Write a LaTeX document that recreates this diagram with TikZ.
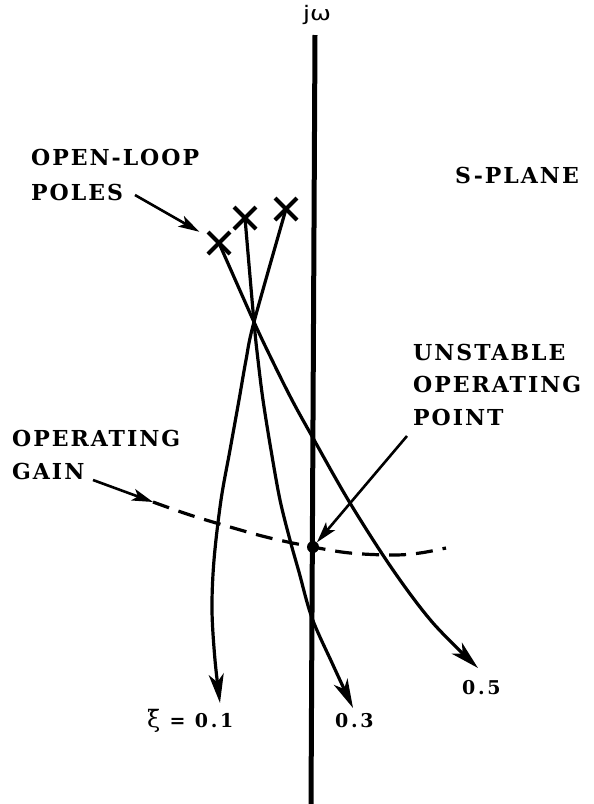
\documentclass[tikz,border=0pt]{standalone}
\usepackage{fontspec}
\setmainfont{DejaVu Serif}
\newfontfamily\lbl[LetterSpace=9]{DejaVu Serif Bold}
\newfontfamily\numf[LetterSpace=14]{DejaVu Serif Bold}
\newfontfamily\greekf{DejaVu Serif}
\newfontfamily\jwf{DejaVu Sans}
\usetikzlibrary{arrows.meta,shapes.misc}
\begin{document}
\begin{tikzpicture}[x=1pt,y=-1pt,
  branch/.style={line width=3.2pt, -{Stealth[length=29pt,width=15pt,inset=8pt]}},
  pole/.style={cross out, draw, line width=4pt, minimum size=18pt, inner sep=0pt},
  lab/.style={anchor=west, inner sep=0pt, font={\lbl\fontsize{22}{26}\selectfont}},
  num/.style={anchor=west, inner sep=0pt, font={\numf\fontsize{19}{23}\selectfont}},
  pointer/.style={line width=2.6pt, -{Stealth[length=21pt,width=12pt,inset=5pt]}},
  gainline/.style={line width=3.2pt, dash pattern=on 17pt off 10pt},
  opdot/.style={circle, fill, inner sep=0pt, minimum size=12pt}
]
\useasboundingbox (0,0) rectangle (594,804);
\fill[white] (0,0) rectangle (594,804);

% imaginary axis
\coordinate (atop) at (315,35);
\coordinate (abot) at (311,804);
\draw[line width=5pt] (atop) -- (abot);
\node[inner sep=0pt] (jw) at (317,15) {\jwf\fontsize{20}{24}\selectfont\scalebox{1.25}[1]{jω}};

% poles
\node[pole] (p1) at (219,243) {};
\node[pole] (p2) at (245,218) {};
\node[pole] (p3) at (286,209) {};
\coordinate (cx) at (254,322);

% branches
\draw[branch] plot[smooth, tension=0.55] coordinates {(p3) (cx) (246,360) (239,400) (230,450) (221,500) (214,560) (212,610) (215,660) (220,703)};
\draw[branch] plot[smooth, tension=0.55] coordinates {(p2) (cx) (258,360) (263,400) (271,450) (280,500) (290,540) (299,572) (312,618) (333,665) (353,708)};
\draw[branch] plot[smooth, tension=0.55] coordinates {(p1) (cx) (272,360) (292,400) (313,438) (350,503) (393,570) (433,623) (478,668)};

% operating gain locus
\coordinate (g) at (153,502);
\node[opdot] (op) at (313,547) {};
\draw[gainline] plot[smooth, tension=0.6] coordinates {(g) (190,515) (230,527) (270,538) (op) (350,553) (393,555) (420,553) (446,548)};

% labels
\node[lab] (ol1) at (31,157) {OPEN-LOOP};
\node[lab] (ol2) at (31,192) {POLES};
\node[lab] (sp) at (455,175) {S-PLANE};
\node[lab] (us1) at (413,352) {UNSTABLE};
\node[lab] (us2) at (413,384) {OPERATING};
\node[lab] (us3) at (413,417) {POINT};
\node[lab] (og1) at (12,438) {OPERATING};
\node[lab] (og2) at (12,471) {GAIN};

\node[num, anchor=base west] (z1) at (147,727) {{\greekf\fontsize{24}{24}\selectfont ξ̄} = 0.1};
\node[num, anchor=base west] (z3) at (335,727) {0.3};
\node[num, anchor=base west] (z5) at (462,694) {0.5};

% pointers
\coordinate (ola) at (135,195);
\draw[pointer, shorten >=10pt] (ola) -- (p1);
\coordinate (oga) at (93,480);
\draw[pointer] (oga) -- (g);
\coordinate (upa) at (407,436);
\draw[pointer] (upa) -- (op);
\end{tikzpicture}
\end{document}
